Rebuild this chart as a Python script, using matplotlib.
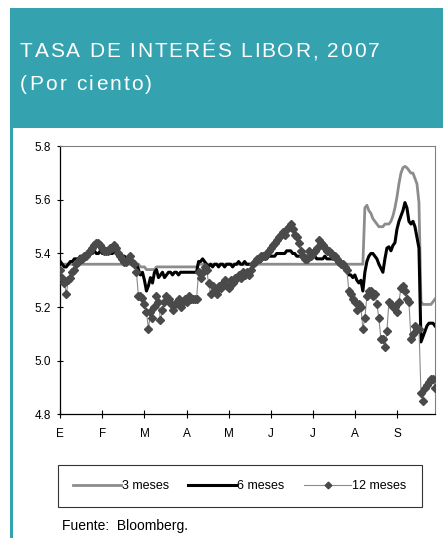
import numpy as np
import matplotlib
matplotlib.use("Agg")
import matplotlib.pyplot as plt
from matplotlib.patches import Rectangle

plt.rcParams['font.family'] = ['Liberation Sans', 'DejaVu Sans']

# Daily LIBOR quotes (business days, Jan - late Sep 2007)
tres_meses = [
    5.36, 5.36, 5.36, 5.36, 5.36, 5.36, 5.36, 5.36, 5.36, 5.36,
    5.36, 5.36, 5.36, 5.36, 5.36, 5.36, 5.36, 5.36, 5.36, 5.36,
    5.36, 5.36, 5.36, 5.36, 5.36, 5.36, 5.36, 5.36, 5.36, 5.36,
    5.36, 5.36, 5.36, 5.36, 5.36, 5.36, 5.36, 5.36, 5.36, 5.36,
    5.35, 5.35, 5.35, 5.34, 5.34, 5.34, 5.34, 5.34, 5.35, 5.35,
    5.35, 5.35, 5.35, 5.35, 5.35, 5.35, 5.35, 5.35, 5.35, 5.35,
    5.35, 5.35, 5.35, 5.35, 5.35, 5.35, 5.35, 5.35, 5.35, 5.36,
    5.36, 5.36, 5.36, 5.36, 5.36, 5.36, 5.36, 5.36, 5.36, 5.36,
    5.36, 5.36, 5.36, 5.36, 5.36, 5.36, 5.36, 5.36, 5.36, 5.36,
    5.36, 5.36, 5.36, 5.36, 5.36, 5.36, 5.36, 5.36, 5.36, 5.36,
    5.36, 5.36, 5.36, 5.36, 5.36, 5.36, 5.36, 5.36, 5.36, 5.36,
    5.36, 5.36, 5.36, 5.36, 5.36, 5.36, 5.36, 5.36, 5.36, 5.36,
    5.36, 5.36, 5.36, 5.36, 5.36, 5.36, 5.36, 5.36, 5.36, 5.36,
    5.36, 5.36, 5.36, 5.36, 5.36, 5.36, 5.36, 5.36, 5.36, 5.36,
    5.36, 5.36, 5.36, 5.36, 5.36, 5.36, 5.36, 5.36, 5.36, 5.36,
    5.36, 5.36, 5.57, 5.58, 5.56, 5.55, 5.53, 5.52, 5.51, 5.50,
    5.50, 5.50, 5.51, 5.51, 5.51, 5.52, 5.54, 5.57, 5.61, 5.66,
    5.70, 5.72, 5.725, 5.72, 5.71, 5.70, 5.70, 5.68, 5.66, 5.59,
    5.22, 5.21, 5.21, 5.21, 5.21, 5.21, 5.22, 5.23,
]

seis_meses = [
    5.37, 5.36, 5.35, 5.35, 5.36, 5.37, 5.37, 5.38, 5.38, 5.38,
    5.39, 5.39, 5.39, 5.40, 5.40, 5.40, 5.40, 5.41, 5.40, 5.40,
    5.41, 5.40, 5.40, 5.40, 5.41, 5.40, 5.40, 5.41, 5.40, 5.40,
    5.40, 5.39, 5.39, 5.38, 5.38, 5.37, 5.37, 5.36, 5.36, 5.34,
    5.32, 5.33, 5.30, 5.26, 5.28, 5.31, 5.29, 5.33, 5.34, 5.31,
    5.32, 5.33, 5.31, 5.32, 5.33, 5.33, 5.32, 5.33, 5.33, 5.32,
    5.33, 5.33, 5.33, 5.33, 5.33, 5.33, 5.33, 5.33, 5.33, 5.37,
    5.37, 5.38, 5.37, 5.36, 5.35, 5.36, 5.35, 5.36, 5.36, 5.35,
    5.36, 5.36, 5.35, 5.36, 5.36, 5.36, 5.35, 5.36, 5.36, 5.37,
    5.36, 5.36, 5.37, 5.36, 5.36, 5.36, 5.36, 5.36, 5.37, 5.37,
    5.37, 5.38, 5.38, 5.38, 5.39, 5.39, 5.39, 5.39, 5.40, 5.40,
    5.40, 5.40, 5.40, 5.41, 5.41, 5.41, 5.40, 5.40, 5.39, 5.39,
    5.39, 5.38, 5.39, 5.39, 5.39, 5.39, 5.40, 5.39, 5.38, 5.38,
    5.38, 5.38, 5.39, 5.38, 5.38, 5.38, 5.38, 5.38, 5.37, 5.37,
    5.37, 5.36, 5.35, 5.34, 5.32, 5.32, 5.31, 5.32, 5.30, 5.29,
    5.30, 5.26, 5.33, 5.37, 5.39, 5.40, 5.40, 5.39, 5.38, 5.36,
    5.345, 5.33, 5.38, 5.42, 5.425, 5.41, 5.43, 5.44, 5.49, 5.52,
    5.54, 5.56, 5.59, 5.57, 5.52, 5.51, 5.52, 5.50, 5.46, 5.42,
    5.07, 5.09, 5.11, 5.13, 5.14, 5.14, 5.14, 5.13,
]

doce_meses = [
    5.34, 5.31, 5.29, 5.25, 5.30, 5.31, 5.33, 5.34, 5.36, 5.37,
    5.38, 5.38, 5.39, 5.39, 5.40, 5.41, 5.42, 5.43, 5.44, 5.44,
    5.43, 5.42, 5.41, 5.41, 5.41, 5.42, 5.42, 5.43, 5.42, 5.40,
    5.39, 5.38, 5.37, 5.37, 5.38, 5.39, 5.37, 5.36, 5.33, 5.24,
    5.24, 5.235, 5.21, 5.18, 5.12, 5.18, 5.16, 5.20, 5.24, 5.22,
    5.15, 5.19, 5.22, 5.24, 5.23, 5.21, 5.19, 5.21, 5.22, 5.23,
    5.20, 5.22, 5.23, 5.22, 5.24, 5.23, 5.23, 5.23, 5.23, 5.33,
    5.31, 5.33, 5.35, 5.34, 5.29, 5.25, 5.28, 5.26, 5.25, 5.28,
    5.27, 5.29, 5.30, 5.28, 5.27, 5.30, 5.29, 5.31, 5.31, 5.32,
    5.31, 5.33, 5.32, 5.33, 5.32, 5.34, 5.36, 5.37, 5.38, 5.38,
    5.39, 5.39, 5.39, 5.40, 5.41, 5.42, 5.43, 5.44, 5.45, 5.46,
    5.47, 5.48, 5.47, 5.49, 5.50, 5.51, 5.49, 5.47, 5.46, 5.44,
    5.41, 5.39, 5.38, 5.38, 5.41, 5.39, 5.40, 5.41, 5.42, 5.45,
    5.44, 5.43, 5.42, 5.41, 5.41, 5.40, 5.39, 5.39, 5.38, 5.37,
    5.36, 5.36, 5.35, 5.34, 5.26, 5.25, 5.23, 5.22, 5.19, 5.21,
    5.20, 5.12, 5.16, 5.24, 5.26, 5.26, 5.24, 5.25, 5.21, 5.16,
    5.08, 5.08, 5.05, 5.11, 5.22, 5.21, 5.20, 5.20, 5.18, 5.22,
    5.27, 5.28, 5.26, 5.23, 5.22, 5.08, 5.10, 5.13, 5.12, 5.12,
    4.88, 4.85, 4.90, 4.91, 4.92, 4.93, 4.93, 4.90,
]

meses = ["E", "F", "M", "A", "M", "J", "J", "A", "S"]
dias_por_mes = 21

teal = "#35A2AF"

fig = plt.figure(figsize=(4.43, 5.38), dpi=100)
renderer = fig.canvas.get_renderer()


def tracked_text(x_px, y_px, s, spacing_px=2.0, **kw):
    # draw string char by char with extra letter spacing (pixel coords)
    xpos = x_px
    for ch in s:
        t = fig.text(xpos / 443, 1 - y_px / 538, ch, va="baseline", ha="left", **kw)
        w = t.get_window_extent(renderer).width
        xpos += w + spacing_px


# header band and left border
fig.patches.append(Rectangle((10 / 443, 1 - 128 / 538), 433 / 443, 120 / 538,
                             transform=fig.transFigure, facecolor=teal,
                             edgecolor="none", zorder=0))
fig.patches.append(Rectangle((10 / 443, 0), 3 / 443, 1 - 128 / 538,
                             transform=fig.transFigure, facecolor=teal,
                             edgecolor="none", zorder=0))
tracked_text(20, 57, "TASA DE INTERÉS LIBOR, 2007", spacing_px=1.8,
             color="white", fontsize=15)
tracked_text(20, 90, "(Por ciento)", spacing_px=2.2,
             color="white", fontsize=15)

ax = fig.add_axes([60.3 / 443, 1 - 414.3 / 538, 374.7 / 443, 268 / 538])
x = np.arange(len(tres_meses))

ax.plot(x, tres_meses, color="#8c8c8c", lw=2, label="3 meses", zorder=2)
ax.plot(x, seis_meses, color="black", lw=2.2, label="6 meses", zorder=3)
ax.plot(x, doce_meses, color="#8a8a8a", lw=0.8, marker="D", ms=4,
        mfc="#4a4a4a", mec="#4a4a4a", label="12 meses", zorder=4)

ax.set_ylim(4.8, 5.8)
ax.set_yticks([4.8, 5.0, 5.2, 5.4, 5.6, 5.8])
ax.set_yticklabels(["4.8", "5.0", "5.2", "5.4", "5.6", "5.8"])
ax.set_xlim(0, 187)
ax.set_xticks(np.arange(len(meses)) * dias_por_mes)
ax.set_xticklabels(meses)
ax.tick_params(axis="y", direction="inout", length=5, width=0.8, pad=4,
               labelsize=8.5)
ax.tick_params(axis="x", direction="inout", length=6, width=0.8, pad=7,
               labelsize=8.5)

for s in ["top", "right"]:
    ax.spines[s].set_color("#808080")
    ax.spines[s].set_linewidth(0.8)
for s in ["left", "bottom"]:
    ax.spines[s].set_color("black")
    ax.spines[s].set_linewidth(0.9)

leg = fig.legend(loc="center", ncol=3, fontsize=9,
                 bbox_to_anchor=(52 / 443, 1 - 506 / 538, 376 / 443, 40 / 538),
                 mode="expand", frameon=True, fancybox=False,
                 handlelength=3.8, handletextpad=0.1, columnspacing=1.5,
                 borderpad=1.2, markerscale=0.85)
leg.get_frame().set_edgecolor("black")
leg.get_frame().set_linewidth(0.8)

fig.text(62 / 443, 1 - 530 / 538, "Fuente:  Bloomberg.", fontsize=10,
         va="baseline", ha="left")

fig.savefig("out.png", dpi=100)
